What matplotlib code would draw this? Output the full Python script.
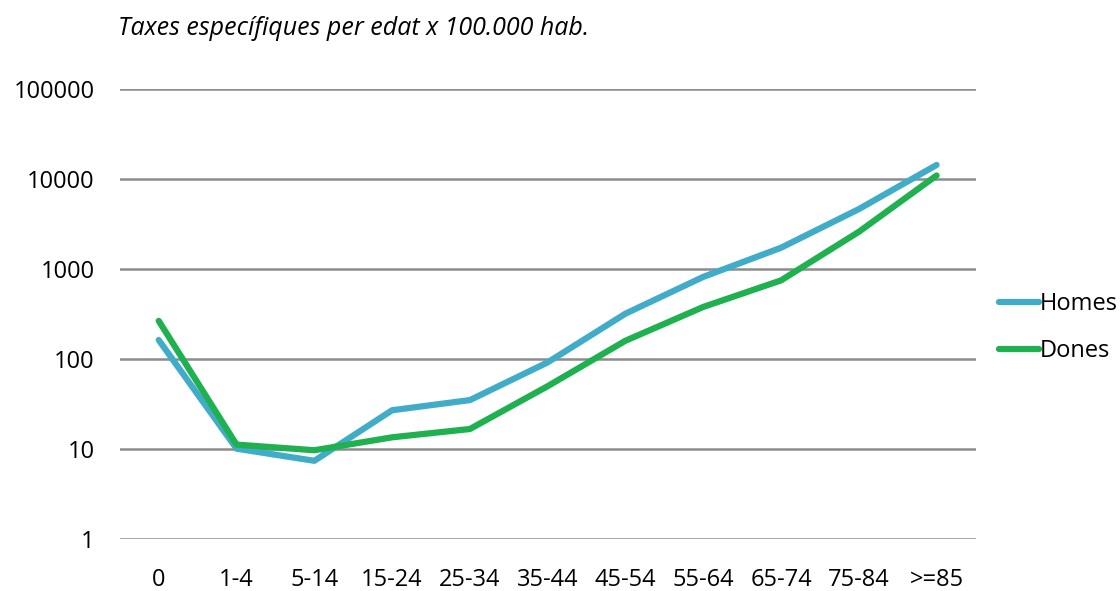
"""Specific rates by age group per 100,000 inhabitants (log scale)."""

import matplotlib
matplotlib.use("Agg")
import matplotlib.pyplot as plt

age_groups = ["0", "1-4", "5-14", "15-24", "25-34", "35-44", "45-54",
              "55-64", "65-74", "75-84", ">=85"]
homes = [163, 10.1, 7.4, 27, 35, 92, 320, 820, 1730, 4650, 14400]
dones = [266, 11.2, 9.7, 13.5, 16.7, 50, 160, 380, 750, 2600, 11000]
y_ticks = [1, 10, 100, 1000, 10000, 100000]

plt.rcParams["font.family"] = ["Open Sans", "DejaVu Sans"]


def main() -> None:
    fig = plt.figure(figsize=(11.2, 5.91), dpi=100)
    axis = fig.add_axes([0.107, 0.088, 0.764, 0.761])

    x = range(len(age_groups))
    axis.plot(x, homes, color="#41acc8", linewidth=4.5, solid_capstyle="round",
              solid_joinstyle="round", label="Homes")
    axis.plot(x, dones, color="#1fb14f", linewidth=4.5, solid_capstyle="round",
              solid_joinstyle="round", label="Dones")

    axis.set_yscale("log")
    axis.set_ylim(1, 100000)
    axis.set_xlim(-0.5, len(age_groups) - 0.5)
    axis.set_yticks(y_ticks)
    axis.set_yticklabels([str(t) for t in y_ticks])
    axis.minorticks_off()
    axis.set_xticks(list(x))
    axis.set_xticklabels(age_groups)
    axis.tick_params(axis="both", length=0, labelsize=17, colors="#000000")
    axis.tick_params(axis="y", pad=18)
    axis.tick_params(axis="x", pad=21)

    axis.grid(axis="y", color="#8c8c8c", linewidth=1.8)
    axis.set_axisbelow(True)
    for spine in axis.spines.values():
        spine.set_visible(False)

    fig.text(0.105, 0.952, "Taxes específiques per edat x 100.000 hab.",
             fontsize=18, style="italic", va="center", ha="left")

    axis.legend(loc="center left", bbox_to_anchor=(1.0, 0.47), frameon=False,
                fontsize=17, handlelength=1.7, handletextpad=0.0,
                labelspacing=0.95, borderaxespad=0.6)

    fig.savefig("out.png", dpi=100)
    plt.close(fig)


if __name__ == "__main__":
    main()
